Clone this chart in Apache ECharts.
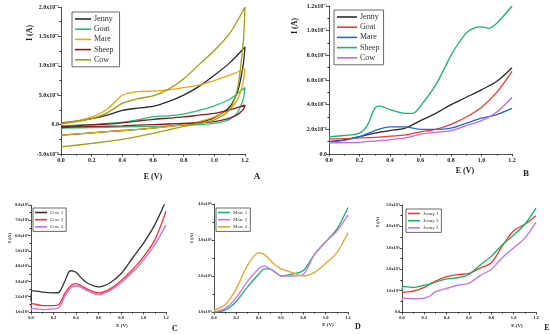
<!DOCTYPE html>
<html><head><meta charset="utf-8">
<script src="https://cdn.jsdelivr.net/npm/echarts@6/dist/echarts.min.js"></script>
<style>html,body{margin:0;padding:0;background:#fff}#c{width:550px;height:334px}</style>
</head><body><div id="c"></div>
<script>
// ---------- tick labels ----------
const xTicks = ['0.0','0.2','0.4','0.6','0.8','1.0','1.2'];
const aYTicks = ['-5.0x10⁻⁶','0.0','5.0x10⁻⁶','1.0x10⁻⁵','1.5x10⁻⁵','2.0x10⁻⁵'];
const bYTicks = ['0.0','2.0x10⁻⁶','4.0x10⁻⁶','6.0x10⁻⁶','8.0x10⁻⁶','1.0x10⁻⁵','1.2x10⁻⁵'];
const cYTicks = ['1.0x10⁻⁶','2.0x10⁻⁶','3.0x10⁻⁶','4.0x10⁻⁶','5.0x10⁻⁶','6.0x10⁻⁶','7.0x10⁻⁶','8.0x10⁻⁶'];
const dYTicks = ['1.0x10⁻⁶','2.0x10⁻⁶','3.0x10⁻⁶','4.0x10⁻⁶'];
const eYTicks = ['0.0','1.0x10⁻⁶','2.0x10⁻⁶','3.0x10⁻⁶','4.0x10⁻⁶','5.0x10⁻⁶'];

// ---------- Panel A (cyclic voltammograms, current in 1e-6 A) ----------
const aNames = ['Jenny','Goat','Mare','Sheep','Cow'];
const aFwdE = [0,0.1,0.2,0.3,0.4,0.5,0.6,0.7,0.8,0.9,1.0,1.1,1.2];
const aRevE = [1.2,1.19,1.17,1.15,1.1,1.0,0.9,0.8,0.6,0.4,0.2,0];
const aJennyFwd = [0.3,0.6,1.0,1.6,2.4,2.8,3.1,3.9,5.0,6.5,8.4,10.5,13.2];
const aJennyRev = [13.2,10.5,7.5,5.5,3.0,1.2,0.4,0.0,-0.6,-1.0,-1.4,-1.8];
const aGoatFwd = [-0.2,-0.1,0.0,0.2,0.4,0.8,1.3,1.5,1.8,2.4,3.2,4.3,6.3];
const aGoatRev = [6.3,4.5,3.0,2.0,0.9,0.2,0.0,-0.1,-0.3,-0.4,-0.5,-0.6];
const aMareFwd = [0.2,0.6,1.3,2.6,5.0,5.6,5.7,5.9,6.3,6.7,7.5,8.4,9.5];
const aMareRev = [9.5,7.5,5.5,4.2,2.6,1.3,0.5,0.0,-0.6,-1.0,-1.4,-1.8];
const aSheepFwd = [-0.3,-0.2,0.0,0.1,0.3,0.6,0.9,1.1,1.3,1.6,1.9,2.5,3.3];
const aSheepRev = [3.3,2.6,2.1,1.7,1.1,0.5,0.3,0.2,0.0,-0.2,-0.3,-0.5];
const aCowFwd = [0.1,0.5,1.0,2.0,3.6,4.4,4.9,6.0,7.8,10.2,12.6,15.5,20.0];
const aCowRev = [20.0,14.5,9.5,6.0,2.5,0.8,0.2,-0.3,-1.5,-2.5,-3.2,-3.8];

// ---------- Panel B ----------
const bNames = ['Jenny','Goat','Mare','Sheep','Cow'];
const bE = [0,0.1,0.2,0.3,0.4,0.5,0.6,0.7,0.8,0.9,1.0,1.1,1.2];
const bJenny = [1.0,1.15,1.4,1.7,1.9,2.1,2.7,3.3,4.0,4.6,5.2,5.9,7.0];
const bGoat = [1.2,1.25,1.3,1.35,1.45,1.55,1.8,2.0,2.4,3.0,3.8,5.0,6.7];
const bMare = [1.0,1.1,1.4,1.9,2.2,2.2,2.0,2.0,2.1,2.5,2.9,3.2,3.7];
const bCow = [0.9,0.92,0.95,1.05,1.15,1.3,1.6,1.75,1.9,2.3,2.7,3.4,4.6];
const bSheepE = [0,0.1,0.2,0.25,0.3,0.33,0.4,0.5,0.55,0.6,0.7,0.8,0.85,0.9,0.95,1.0,1.05,1.1,1.2];
const bSheep = [1.4,1.5,1.7,2.3,3.7,3.9,3.6,3.3,3.3,3.9,5.6,8.0,9.0,9.8,10.2,10.3,10.2,10.6,12.0];

// ---------- Panel C ----------
const cNames = ['Cow 1','Cow 2','Cow 3'];
const cE = [0,0.01,0.1,0.2,0.25,0.3,0.35,0.4,0.45,0.5,0.6,0.7,0.8,0.9,0.95,1.0,1.1,1.2];
const cCow1 = [1.7,2.4,2.3,2.25,2.3,3.0,3.7,3.6,3.2,2.9,2.65,2.9,3.5,4.5,5.0,5.5,6.7,8.3];
const cCow2 = [1.3,1.55,1.42,1.42,1.5,2.2,2.7,2.85,2.7,2.5,2.25,2.5,3.05,3.75,4.15,4.6,5.7,7.6];
const cCow3 = [1.1,1.25,1.15,1.2,1.3,2.0,2.55,2.7,2.6,2.4,2.12,2.4,2.9,3.6,3.95,4.4,5.4,6.7];

// ---------- Panel D ----------
const dNames = ['Mare 1','Mare 2','Mare 3'];
const dE = [0,0.1,0.2,0.3,0.4,0.45,0.5,0.55,0.6,0.7,0.8,0.9,1.0,1.1,1.2];
const dMare1 = [1.0,1.05,1.3,1.7,2.05,2.2,2.2,2.1,2.0,2.05,2.15,2.6,2.95,3.3,3.9];
const dMare2 = [1.0,1.1,1.4,1.85,2.2,2.28,2.2,2.1,2.0,2.0,2.05,2.6,2.95,3.25,3.7];
const dMare3 = [1.05,1.2,1.65,2.3,2.65,2.6,2.45,2.3,2.2,2.1,2.0,2.1,2.35,2.65,3.2];

// ---------- Panel E ----------
const eNames = ['Jenny 1','Jenny 2','Jenny 3'];
const eE = [0,0.01,0.1,0.2,0.25,0.3,0.4,0.5,0.6,0.7,0.8,0.9,1.0,1.1,1.2];
const eJenny1 = [0.85,0.92,0.97,1.15,1.3,1.45,1.65,1.75,1.8,2.05,2.3,3.1,3.8,4.1,4.5];
const eJenny2 = [1.0,1.2,1.15,1.25,1.3,1.4,1.55,1.6,1.75,2.2,2.6,3.15,3.6,4.1,4.85];
const eJenny3 = [0.55,0.65,0.62,0.65,0.75,0.95,1.1,1.25,1.35,1.7,2.0,2.55,3.0,3.45,4.2];

// ---------- build ----------
const FONT = 'Liberation Serif';
const zip = (xs, ys) => xs.map((x, i) => [x, ys[i]]);
const loop = (f, r) => zip(aFwdE, f).concat(zip(aRevE, r).slice(1));

const grids = [
  {left:61, top:7, width:184, height:147},
  {left:329, top:6, width:183, height:148},
  {left:31, top:205, width:135, height:107},
  {left:214, top:204, width:134, height:108},
  {left:402, top:205, width:134, height:107}
];
const ycfg = [
  {min:-5, max:20, interval:5, ticks:aYTicks, fs:6},
  {min:0, max:12, interval:2, ticks:bYTicks, fs:6},
  {min:1, max:8, interval:1, ticks:cYTicks, fs:4.2},
  {min:1, max:4, interval:1, ticks:dYTicks, fs:4.2},
  {min:0, max:5, interval:1, ticks:eYTicks, fs:4.2}
];
const xfs = [6,6,4.5,4.5,4.5];

const xAxis = grids.map((g, i) => ({
  gridIndex:i, type:'value', min:0, max:1.2, interval:0.2,
  axisLine:{show:true, onZero:false, lineStyle:{color:'#222', width:0.8}},
  axisTick:{show:true, length:2.5, lineStyle:{color:'#222', width:0.8}},
  minorTick:{show:true, splitNumber:2, length:1.5, lineStyle:{color:'#222'}},
  splitLine:{show:false},
  axisLabel:{fontFamily:FONT, fontWeight:'bold', fontSize:xfs[i], color:'#222', margin:3,
    formatter:v => xTicks[Math.round(v/0.2)]}
}));
const yAxis = ycfg.map((c, i) => ({
  gridIndex:i, type:'value', min:c.min, max:c.max, interval:c.interval,
  axisLine:{show:true, lineStyle:{color:'#222', width:0.8}},
  axisTick:{show:true, length:2.5, lineStyle:{color:'#222', width:0.8}},
  minorTick:{show:true, splitNumber:2, length:1.5, lineStyle:{color:'#222'}},
  splitLine:{show:false},
  axisLabel:{fontFamily:FONT, fontWeight:'bold', fontSize:c.fs, color:'#222', margin:2,
    formatter:v => c.ticks[Math.round((v - c.min)/c.interval)]}
}));

const series = [];
function add(gi, prefix, name, data, color, w) {
  series.push({type:'line', name:prefix+'|'+name, xAxisIndex:gi, yAxisIndex:gi, data:data,
    smooth:0.3, symbol:'none', clip:true, lineStyle:{color:color, width:w}, itemStyle:{color:color}});
}
const aCol = ['#2a2a2a','#1fc27a','#f0a40c','#8c1c1c','#a0a010'];
const aF = [aJennyFwd,aGoatFwd,aMareFwd,aSheepFwd,aCowFwd];
const aR = [aJennyRev,aGoatRev,aMareRev,aSheepRev,aCowRev];
aNames.forEach((n, i) => add(0, 'A', n, loop(aF[i], aR[i]), aCol[i], 1.3));

const bCol = ['#2a2a2a','#ff3333','#2266e6','#14b866','#c466f2'];
add(1,'B','Jenny',zip(bE,bJenny),bCol[0],1.3);
add(1,'B','Goat',zip(bE,bGoat),bCol[1],1.3);
add(1,'B','Mare',zip(bE,bMare),bCol[2],1.3);
add(1,'B','Sheep',zip(bSheepE,bSheep),bCol[3],1.3);
add(1,'B','Cow',zip(bE,bCow),bCol[4],1.3);

const cCol = ['#333333','#ff2a2a','#c46ef2'];
[cCow1,cCow2,cCow3].forEach((d,i)=>add(2,'C',cNames[i],zip(cE,d),cCol[i],1.3));
const dCol = ['#14b470','#d072f2','#eaa424'];
[dMare1,dMare2,dMare3].forEach((d,i)=>add(3,'D',dNames[i],zip(dE,d),dCol[i],1.3));
const eCol = ['#ff3333','#14b466','#c470f2'];
[eJenny1,eJenny2,eJenny3].forEach((d,i)=>add(4,'E',eNames[i],zip(eE,d),eCol[i],1.3));

function legend(prefix, names, left, top, fs, iw, gap, pad) {
  return {orient:'vertical', left:left, top:top, data:names.map(n=>prefix+'|'+n),
    formatter:n=>n.split('|')[1], icon:'rect', itemWidth:iw, itemHeight:1.6, itemGap:gap,
    padding:pad, borderColor:'#444', borderWidth:0.8, backgroundColor:'#fff',
    selectedMode:false, textStyle:{fontFamily:FONT, fontSize:fs, color:'#333', padding:[0,0,0,-2]}};
}
const legends = [
  legend('A', aNames, 72, 12, 8, 16, 2.2, [3,6,3,3]),
  legend('B', bNames, 334, 10, 8, 20, 2.2, [3,4,3,3]),
  legend('C', cNames, 33, 208, 5, 12, 2.2, [2,3,2,2]),
  legend('D', dNames, 216, 208, 5, 12, 2.2, [2,3,2,2]),
  legend('E', eNames, 406, 209, 5, 12, 2.2, [2,3,2,2])
];

function txt(x, y, s, fs, rot) {
  return {type:'text', x:x, y:y, rotation:rot ? Math.PI/2 : 0,
    style:{text:s, fontFamily:FONT, fontWeight:'bold', fontSize:fs, fill:'#222', align:'center', verticalAlign:'middle'}};
}
const graphic = [
  txt(30, 33, 'I (A)', 8, true),
  txt(153, 177, 'E (V)', 8),
  txt(257, 177, 'A', 9),
  txt(295, 26, 'I (A)', 8, true),
  txt(465, 171, 'E (V)', 8),
  txt(526, 174, 'B', 9),
  txt(10, 238, 'I (A)', 5, true),
  txt(122, 326, 'E (V)', 5),
  txt(175, 329, 'C', 8),
  txt(192, 238, 'I (A)', 5, true),
  txt(328, 325, 'E (V)', 5),
  txt(358, 327, 'D', 8),
  txt(378, 222, 'I (A)', 5, true),
  txt(517, 326, 'E (V)', 5),
  txt(547, 328, 'E', 8)
];

const chart = echarts.init(document.getElementById('c'), null, {renderer:'canvas'});
chart.setOption({animation:false, backgroundColor:'#fff', grid:grids, xAxis:xAxis, yAxis:yAxis,
  series:series, legend:legends, graphic:graphic});
</script></body></html>
